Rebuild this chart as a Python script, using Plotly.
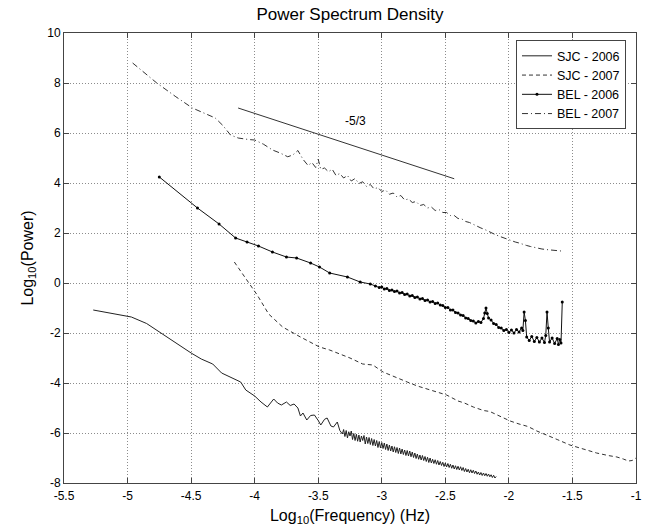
import plotly.graph_objects as go

# ---------------- data ----------------
sjc2006_x = [-5.27, -4.97, -4.85, -4.74, -4.63, -4.50, -4.42, -4.33, -4.26, -4.19, -4.11, -4.07, -4.00,
             -3.95, -3.90, -3.85, -3.82, -3.79, -3.75, -3.72, -3.69, -3.66, -3.64, -3.62, -3.59, -3.56,
             -3.53, -3.50, -3.48, -3.45, -3.43, -3.40, -3.38, -3.35, -3.33, -3.31,
             -3.30, -3.29, -3.28, -3.27, -3.26, -3.25, -3.24, -3.23, -3.22, -3.21,
             -3.20, -3.19, -3.18, -3.17, -3.16, -3.15, -3.14, -3.13, -3.12, -3.11,
             -3.10, -3.09, -3.08, -3.07, -3.06, -3.05, -3.04, -3.03, -3.02, -3.01,
             -3.00, -2.99, -2.98, -2.97, -2.96, -2.95, -2.94, -2.93, -2.92, -2.91,
             -2.90, -2.89, -2.88, -2.87, -2.86, -2.85, -2.84, -2.83, -2.82, -2.81,
             -2.80, -2.79, -2.78, -2.77, -2.76, -2.75, -2.74, -2.73, -2.72, -2.71,
             -2.70, -2.69, -2.68, -2.67, -2.66, -2.65, -2.64, -2.63, -2.62, -2.61,
             -2.60, -2.59, -2.58, -2.57, -2.56, -2.55, -2.54, -2.53, -2.52, -2.51,
             -2.50, -2.49, -2.48, -2.47, -2.46, -2.45, -2.44, -2.43, -2.42, -2.41,
             -2.40, -2.39, -2.38, -2.37, -2.36, -2.35, -2.34, -2.33, -2.32, -2.31,
             -2.30, -2.29, -2.28, -2.27, -2.26, -2.25, -2.24, -2.23, -2.22, -2.21,
             -2.20, -2.19, -2.18, -2.17, -2.16, -2.15, -2.14, -2.13, -2.12, -2.11,
             -2.10]
sjc2006_y = [-1.08, -1.36, -1.62, -2.00, -2.36, -2.80, -3.04, -3.24, -3.60, -3.76, -3.96, -4.28, -4.52,
             -4.76, -4.96, -4.64, -4.80, -4.88, -4.76, -4.90, -4.84, -5.00, -5.32, -5.20, -5.48, -5.30,
             -5.28, -5.50, -5.68, -5.45, -5.40, -5.72, -5.76, -5.56, -5.90, -6.04,
             -5.86, -6.14, -5.90, -6.20, -5.95, -6.12, -5.92, -6.26, -6.02, -6.30,
             -6.05, -6.33, -6.08, -6.36, -6.12, -6.30, -6.10, -6.44, -6.16, -6.42,
             -6.18, -6.46, -6.22, -6.50, -6.26, -6.52, -6.30, -6.58, -6.34, -6.60,
             -6.38, -6.62, -6.40, -6.66, -6.44, -6.70, -6.48, -6.72, -6.52, -6.76,
             -6.55, -6.78, -6.58, -6.82, -6.60, -6.84, -6.64, -6.86, -6.68, -6.90,
             -6.70, -6.92, -6.72, -6.95, -6.76, -6.98, -6.80, -7.02, -6.84, -7.05,
             -6.88, -7.08, -6.90, -7.10, -6.94, -7.14, -6.97, -7.18, -7.00, -7.20,
             -7.05, -7.22, -7.07, -7.25, -7.10, -7.28, -7.14, -7.30, -7.17, -7.34,
             -7.20, -7.36, -7.22, -7.38, -7.25, -7.41, -7.28, -7.44, -7.31, -7.46,
             -7.33, -7.48, -7.35, -7.50, -7.38, -7.54, -7.42, -7.56, -7.45, -7.59,
             -7.47, -7.60, -7.49, -7.62, -7.52, -7.65, -7.56, -7.68, -7.58, -7.70,
             -7.60, -7.71, -7.62, -7.73, -7.64, -7.75, -7.67, -7.78, -7.69, -7.80,
             -7.74]

sjc2007_x = [-4.16, -4.06, -3.98, -3.89, -3.78, -3.64, -3.49, -3.41, -3.25, -3.15, -3.07, -2.99, -2.90,
             -2.80, -2.72, -2.64, -2.56, -2.49, -2.40, -2.35, -2.28, -2.20, -2.15, -2.09, -2.03, -1.99,
             -1.92, -1.85, -1.78, -1.70, -1.62, -1.52, -1.42, -1.31, -1.22, -1.15, -1.10, -1.06, -1.03, -1.00]
sjc2007_y = [0.84, 0.12, -0.48, -1.24, -1.76, -2.16, -2.56, -2.68, -3.00, -3.24, -3.28, -3.56, -3.76,
             -3.96, -4.12, -4.24, -4.38, -4.48, -4.72, -4.80, -4.96, -5.10, -5.14, -5.28, -5.40, -5.52,
             -5.64, -5.74, -5.92, -6.08, -6.26, -6.48, -6.64, -6.80, -6.90, -6.96, -7.04, -7.12, -7.10, -7.00]

bel2006_x = [-4.75, -4.45, -4.28, -4.15, -4.06, -3.97, -3.86, -3.75, -3.67, -3.56, -3.49, -3.41, -3.27,
             -3.17, -3.09, -3.05, -3.02, -3.00, -2.98, -2.96, -2.94, -2.92, -2.90, -2.88, -2.86, -2.84,
             -2.82, -2.80, -2.78, -2.76, -2.74, -2.72, -2.70, -2.68, -2.66, -2.64, -2.62, -2.60, -2.58,
             -2.56, -2.54, -2.52, -2.50, -2.48, -2.46, -2.44, -2.42, -2.40, -2.38, -2.36, -2.34, -2.32,
             -2.30, -2.28, -2.26, -2.24, -2.22, -2.20, -2.19, -2.18, -2.17, -2.16, -2.14, -2.12, -2.10,
             -2.08, -2.06, -2.04, -2.02, -2.00, -1.98, -1.96, -1.94, -1.92, -1.90, -1.89, -1.88, -1.87,
             -1.86, -1.84, -1.82, -1.80, -1.78, -1.76, -1.74, -1.72, -1.71, -1.70, -1.69, -1.68, -1.66,
             -1.64, -1.62, -1.61, -1.60, -1.59, -1.58]
bel2006_y = [4.24, 3.00, 2.36, 1.80, 1.64, 1.48, 1.24, 1.04, 1.00, 0.80, 0.64, 0.40, 0.24,
             0.04, -0.04, -0.12, -0.18, -0.16, -0.24, -0.22, -0.30, -0.28, -0.34, -0.32, -0.40, -0.38,
             -0.46, -0.44, -0.52, -0.50, -0.58, -0.56, -0.64, -0.62, -0.70, -0.68, -0.76, -0.74, -0.82,
             -0.80, -0.88, -0.90, -0.98, -0.98, -1.08, -1.08, -1.18, -1.20, -1.28, -1.30, -1.40, -1.42,
             -1.50, -1.52, -1.60, -1.54, -1.58, -1.42, -1.20, -1.00, -1.22, -1.40, -1.48, -1.62, -1.66,
             -1.78, -1.80, -1.90, -1.86, -1.98, -1.88, -2.00, -1.86, -1.96, -1.80, -1.90, -1.16, -1.50,
             -2.16, -2.30, -2.14, -2.34, -2.18, -2.36, -2.20, -2.38, -2.10, -1.16, -1.80, -2.36, -2.20,
             -2.42, -2.22, -2.46, -2.26, -2.40, -0.76]

bel2007_x = [-4.96, -4.77, -4.62, -4.49, -4.31, -4.25, -4.19, -4.13, -4.05, -4.00, -3.93, -3.86, -3.80,
             -3.74, -3.70, -3.66, -3.62, -3.58, -3.55, -3.52, -3.50, -3.48, -3.45, -3.42, -3.39, -3.36,
             -3.33, -3.30, -3.27, -3.24, -3.21, -3.18, -3.15, -3.12, -3.09, -3.06, -3.03, -3.00, -2.97,
             -2.94, -2.91, -2.88, -2.85, -2.82, -2.79, -2.76, -2.73, -2.70, -2.67, -2.64, -2.61, -2.58,
             -2.55, -2.52, -2.49, -2.46, -2.43, -2.40, -2.37, -2.34, -2.31, -2.28, -2.25, -2.22, -2.19,
             -2.16, -2.13, -2.10, -2.07, -2.04, -2.01, -1.98, -1.95, -1.92, -1.89, -1.86, -1.83, -1.80,
             -1.77, -1.74, -1.71, -1.68, -1.65, -1.62, -1.59, -1.57]
bel2007_y = [8.80, 8.00, 7.45, 7.00, 6.60, 6.30, 5.92, 5.80, 5.74, 5.72, 5.55, 5.32, 5.20,
             5.05, 5.12, 5.30, 4.95, 4.70, 4.82, 4.62, 4.95, 4.55, 4.60, 4.45, 4.55, 4.30,
             4.38, 4.20, 4.30, 4.08, 4.18, 3.98, 4.05, 3.86, 3.94, 3.76, 3.82, 3.66, 3.72,
             3.55, 3.60, 3.44, 3.50, 3.32, 3.36, 3.22, 3.26, 3.10, 3.14, 3.00, 3.04, 2.90,
             2.94, 2.82, 2.82, 2.70, 2.70, 2.58, 2.56, 2.46, 2.42, 2.34, 2.28, 2.20, 2.14,
             2.06, 2.00, 1.92, 1.86, 1.80, 1.74, 1.70, 1.64, 1.60, 1.54, 1.50, 1.46, 1.42,
             1.40, 1.36, 1.34, 1.32, 1.30, 1.30, 1.28, 1.32]

ref_x = [-4.13, -2.43]
ref_y = [7.00, 4.17]
ref_label = "-5/3"
ref_label_pos = [-3.21, 6.50]

x_ticks = [-5.5, -5, -4.5, -4, -3.5, -3, -2.5, -2, -1.5, -1]
x_ticktext = ["-5.5", "-5", "-4.5", "-4", "-3.5", "-3", "-2.5", "-2", "-1.5", "-1"]
y_ticks = [-8, -6, -4, -2, 0, 2, 4, 6, 8, 10]
y_ticktext = ["-8", "-6", "-4", "-2", "0", "2", "4", "6", "8", "10"]

# ---------------- figure ----------------
FONT = "Liberation Sans, Arial, Helvetica, sans-serif"
fig = go.Figure()

fig.add_trace(go.Scatter(x=sjc2006_x, y=sjc2006_y, mode="lines", name="SJC - 2006",
                         line=dict(color="#222222", width=1)))
fig.add_trace(go.Scatter(x=sjc2007_x, y=sjc2007_y, mode="lines", name="SJC - 2007",
                         line=dict(color="#333333", width=1, dash="4px,3px")))
fig.add_trace(go.Scatter(x=bel2006_x, y=bel2006_y, mode="lines+markers", name="BEL - 2006",
                         line=dict(color="#111111", width=1),
                         marker=dict(color="#000000", size=3, symbol="circle")))
fig.add_trace(go.Scatter(x=bel2007_x, y=bel2007_y, mode="lines", name="BEL - 2007",
                         line=dict(color="#333333", width=1, dash="6px,3px,1px,3px")))
fig.add_trace(go.Scatter(x=ref_x, y=ref_y, mode="lines", showlegend=False,
                         line=dict(color="#333333", width=1)))

fig.add_annotation(x=ref_label_pos[0], y=ref_label_pos[1], text=ref_label, showarrow=False,
                   font=dict(family=FONT, size=12, color="black"))

axis_common = dict(showline=True, linecolor="#444444", linewidth=1, mirror="ticks",
                   ticks="inside", ticklen=5, tickcolor="#444444", automargin=False,
                   showgrid=True, gridcolor="#8c8c8c", griddash="1px,2px", gridwidth=1,
                   zeroline=False, tickfont=dict(family=FONT, size=12, color="black"))

fig.update_xaxes(range=[-5.5, -1], tickvals=x_ticks, ticktext=x_ticktext, ticklabelstandoff=2,
                 title=dict(text="Log<sub>10</sub>(Frequency) (Hz)", standoff=7,
                            font=dict(family=FONT, size=16, color="black")),
                 **axis_common)
fig.update_yaxes(range=[-8, 10], tickvals=y_ticks, ticktext=y_ticktext,
                 title=dict(text="Log<sub>10</sub>(Power)", standoff=9,
                            font=dict(family=FONT, size=16, color="black")),
                 **axis_common)

fig.update_layout(
    width=646, height=529,
    margin=dict(l=64, r=10, t=33, b=46),
    paper_bgcolor="white", plot_bgcolor="white",
    title=dict(text="Power Spectrum Density", x=0.5, xref="paper", y=0.973, yanchor="middle",
               font=dict(family=FONT, size=17, color="black")),
    legend=dict(x=0.9825, y=0.984, xanchor="right", yanchor="top",
                bgcolor="white", bordercolor="#444444", borderwidth=1,
                font=dict(family=FONT, size=12.5, color="black"),
                tracegroupgap=0, itemwidth=30),
    showlegend=True,
)

fig.write_html("out.html", config={"displayModeBar": False},
               post_script="document.body.style.margin='0px';")
